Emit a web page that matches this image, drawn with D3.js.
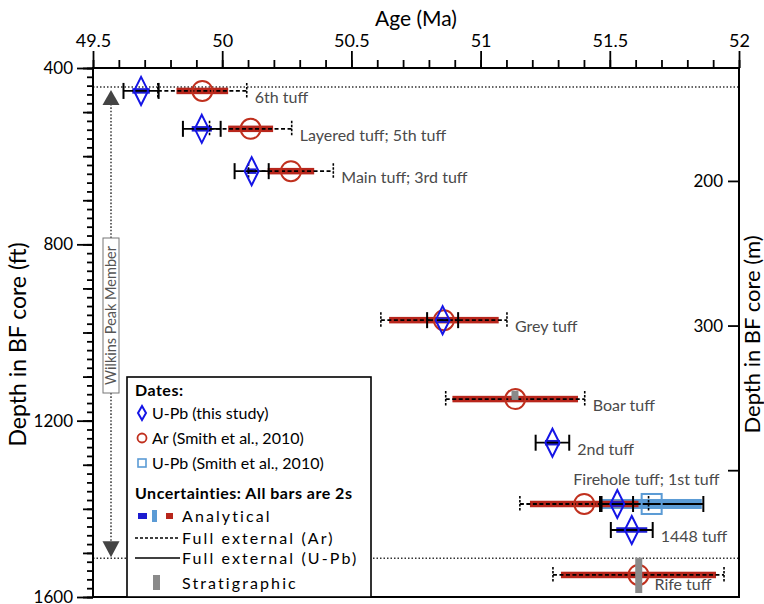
<!DOCTYPE html>
<html>
<head>
<meta charset="utf-8">
<script src="https://cdn.jsdelivr.net/npm/d3@7"></script>
<style>
  body { margin: 0; background: #fff; }
  svg { font-family: Lato, "Noto Sans", sans-serif; }
</style>
</head>
<body>
<svg id="chart" width="764" height="604"></svg>
<script>
// tuff horizons, depth in the BF core (ft)
const tuffs = ["6th tuff", "Layered tuff; 5th tuff", "Main tuff; 3rd tuff", "Grey tuff", "Boar tuff",
    "2nd tuff", "Firehole tuff; 1st tuff", "1448 tuff", "Rife tuff"]
const depthFt = [452, 538, 634, 972, 1151, 1250, 1389, 1448, 1550]

// U-Pb (this study): age, half widths of analytical and full external 2s
const upbAge = [49.686, 49.921, 50.114, 50.853, null, 51.278, 51.529, 51.585, null]
const upbAnalytical = [0.034, 0.039, 0.019, 0.018, null, 0.029, 0.023, 0.060, null]
const upbFull = [0.068, 0.073, 0.066, 0.060, null, 0.065, 0.061, 0.081, null]

// Ar (Smith et al., 2010)
const arAge = [49.923, 50.110, 50.266, 50.858, 51.134, null, 51.401, null, 51.611]
const arAnalytical = [0.100, 0.087, 0.090, 0.212, 0.243, null, 0.210, null, 0.300]
const arFull = [0.172, 0.159, 0.164, 0.244, 0.269, null, 0.249, null, 0.331]

// U-Pb (Smith et al., 2010)
const smithTuff = ["Firehole tuff; 1st tuff"]
const smithAge = [51.662]
const smithAnalytical = [0.194]
const smithFull = [0.200]

// stratigraphic uncertainty (depth range, ft)
const stratTuff = ["Boar tuff", "Rife tuff"]
const stratAge = [51.133, 51.612]
const stratTop = [1132, 1511]
const stratBottom = [1153, 1591]

// Wilkins Peak Member limits (ft)
const wpmTop = 443
const wpmBase = 1512

const ageTicks = [49.5, 50, 50.5, 51, 51.5, 52]
const ftTicks = [400, 800, 1200, 1600]
const mTicks = [200, 300, 400]
const FT_PER_M = 3.28084

const svg = d3.select('#chart')
const pLeft = 93, pRight = 739, pTop = 68, pBottom = 597

let x = d3.scaleLinear().domain([49.5, 52]).range([pLeft, pRight])
let y = d3.scaleLinear().domain([400, 1600]).range([pTop, pBottom])
let yM = d3.scaleLinear().domain([400 / FT_PER_M, 1600 / FT_PER_M]).range([pTop, pBottom])

const darkBlue = '#1c1cd0', lightBlue = '#5b9bd5', red = '#b8261c', gray = '#8a8a8a'
const textGray = '#4a4a4a'

function styleAxis(g, size) {
    g.select('.domain').remove()
    g.selectAll('line').attr('stroke', '#000').attr('stroke-width', 1.8)
    g.selectAll('text').attr('font-size', size).attr('fill', '#000')
        .attr('font-family', 'Lato, "Noto Sans", sans-serif')
}

// top axis: minor then major ticks
svg.append('g').attr('transform', `translate(0,${pTop})`)
    .call(d3.axisTop(x).tickValues(d3.range(49.5, 52.01, 0.1)).tickSize(8).tickFormat(''))
    .call(g => styleAxis(g, 18))
svg.append('g').attr('transform', `translate(0,${pTop})`)
    .call(d3.axisTop(x).tickValues(ageTicks).tickSize(17).tickPadding(4).tickFormat(d => d))
    .call(g => styleAxis(g, 18))

// left axis (ft)
svg.append('g').attr('transform', `translate(${pLeft},0)`)
    .call(d3.axisLeft(y).tickValues(d3.range(400, 1601, 20)).tickSize(6).tickFormat(''))
    .call(g => styleAxis(g, 17))
svg.append('g').attr('transform', `translate(${pLeft},0)`)
    .call(d3.axisLeft(y).tickValues(d3.range(400, 1601, 100)).tickSize(10).tickFormat(''))
    .call(g => styleAxis(g, 17))
svg.append('g').attr('transform', `translate(${pLeft},0)`)
    .call(d3.axisLeft(y).tickValues(ftTicks).tickSize(16).tickPadding(4).tickFormat(d => d))
    .call(g => styleAxis(g, 17))

// right axis (m), ticks inside
svg.append('g').attr('transform', `translate(${pRight},0)`)
    .call(d3.axisLeft(yM).tickValues(mTicks).tickSize(11).tickPadding(5)
        .tickFormat(d => d === 400 ? '' : d))
    .call(g => styleAxis(g, 17))

// axis titles
svg.append('text').attr('x', (pLeft + pRight) / 2).attr('y', 26)
    .attr('text-anchor', 'middle').attr('font-size', 21).text('Age (Ma)')
svg.append('text').attr('transform', `translate(26,${(pTop + pBottom) / 2 + 12}) rotate(-90)`)
    .attr('text-anchor', 'middle').attr('font-size', 23).text('Depth in BF core (ft)')
svg.append('text').attr('transform', `translate(760,${(pTop + pBottom) / 2 + 2}) rotate(-90)`)
    .attr('text-anchor', 'middle').attr('font-size', 22).text('Depth in BF core (m)')

let plot = svg.append('g')

// Wilkins Peak Member limits
plot.selectAll('.wpm').data([wpmTop, wpmBase]).enter().append('line')
    .attr('x1', pLeft).attr('x2', pRight)
    .attr('y1', d => y(d)).attr('y2', d => y(d))
    .attr('stroke', '#333').attr('stroke-width', 1.4).attr('stroke-dasharray', '1.5,2')

const ax = 111
plot.append('line').attr('x1', ax).attr('x2', ax)
    .attr('y1', y(wpmTop) + 17).attr('y2', y(wpmBase) - 17)
    .attr('stroke', '#444').attr('stroke-width', 1.6).attr('stroke-dasharray', '1.6,1.8')
plot.append('path')
    .attr('d', `M${ax},${y(wpmTop) + 3} l8.5,15 h-17 Z`).attr('fill', '#444')
plot.append('path')
    .attr('d', `M${ax},${y(wpmBase) - 1} l8.5,-16 h-17 Z`).attr('fill', '#444')
plot.append('rect').attr('x', ax - 8).attr('y', 238).attr('width', 16).attr('height', 155)
    .attr('fill', '#fff').attr('stroke', '#777').attr('stroke-width', 1)
plot.append('text').attr('transform', `translate(${ax + 5},315.5) rotate(-90)`)
    .attr('text-anchor', 'middle').attr('font-size', 14.5).attr('fill', '#555')
    .text('Wilkins Peak Member')

// build rows
let rows = tuffs.map(function (t, i) {
    let si = smithTuff.indexOf(t)
    return {
        name: t, depth: depthFt[i],
        upb: upbAge[i] === null ? null : {age: upbAge[i], an: upbAnalytical[i], full: upbFull[i]},
        ar: arAge[i] === null ? null : {age: arAge[i], an: arAnalytical[i], full: arFull[i]},
        smith: si < 0 ? null : {age: smithAge[si], an: smithAnalytical[si], full: smithFull[si]}
    }
})

function bar(g, d, e, h, color) {
    g.append('rect')
        .attr('x', x(e.age - e.an)).attr('width', x(e.age + e.an) - x(e.age - e.an))
        .attr('y', y(d.depth) - h / 2).attr('height', h).attr('fill', color)
}

function whisker(g, d, e, dashed) {
    let yy = y(d.depth)
    let dash = dashed ? '4,2.5' : null
    g.append('line').attr('x1', x(e.age - e.full)).attr('x2', x(e.age + e.full))
        .attr('y1', yy).attr('y2', yy).attr('stroke', '#000').attr('stroke-width', 1.8)
        .attr('stroke-dasharray', dash)
    ;[e.age - e.full, e.age + e.full].forEach(function (a) {
        g.append('line').attr('x1', x(a)).attr('x2', x(a))
            .attr('y1', yy - 8).attr('y2', yy + 8).attr('stroke', '#000')
            .attr('stroke-width', dashed ? 1.6 : 2).attr('stroke-dasharray', dashed ? '2.5,1.5' : null)
    })
}

let groups = plot.selectAll('.tuff').data(rows).enter().append('g')

groups.each(function (d) {
    let g = d3.select(this)
    if (d.smith) bar(g, d, d.smith, 10, lightBlue)
    if (d.ar) bar(g, d, d.ar, 6.5, red)
    if (d.upb) bar(g, d, d.upb, 5.5, darkBlue)
    if (d.ar) whisker(g, d, d.ar, true)
    if (d.smith) whisker(g, d, d.smith, false)
    if (d.upb) whisker(g, d, d.upb, false)
})

// stratigraphic uncertainty
plot.selectAll('.strat').data(stratTuff).enter().append('rect')
    .attr('x', (d, i) => x(stratAge[i]) - 3.5).attr('width', 7)
    .attr('y', (d, i) => y(stratTop[i]))
    .attr('height', (d, i) => Math.min(y(stratBottom[i]), pBottom - 1) - y(stratTop[i]))
    .attr('fill', gray)

groups.each(function (d) {
    let g = d3.select(this)
    let yy = y(d.depth)
    if (d.ar) g.append('circle').attr('cx', x(d.ar.age)).attr('cy', yy).attr('r', 10)
        .attr('fill', 'none').attr('stroke', '#c0301e').attr('stroke-width', 2)
    if (d.smith) g.append('rect').attr('x', x(d.smith.age) - 10).attr('y', yy - 10)
        .attr('width', 20).attr('height', 20)
        .attr('fill', 'none').attr('stroke', lightBlue).attr('stroke-width', 2)
    if (d.upb) {
        let cx = x(d.upb.age)
        g.append('path').attr('d', `M${cx},${yy - 14} L${cx + 7},${yy} L${cx},${yy + 14} L${cx - 7},${yy} Z`)
            .attr('fill', 'none').attr('stroke', '#1515e6').attr('stroke-width', 2)
    }
})

// tuff labels
groups.append('text')
    .attr('font-size', 16).attr('fill', textGray)
    .attr('text-anchor', d => d.smith ? 'end' : 'start')
    .attr('x', function (d) {
        if (d.smith) return x(d.smith.age + d.smith.full) + 16
        if (d.name === 'Rife tuff') return x(d.ar.age) + 16
        let ends = []
        if (d.upb) ends.push(d.upb.age + d.upb.full)
        if (d.ar) ends.push(d.ar.age + d.ar.full)
        return x(d3.max(ends)) + 8
    })
    .attr('y', function (d) {
        if (d.smith) return y(d.depth) - 19
        if (d.name === 'Rife tuff') return y(d.depth) + 15
        return y(d.depth) + 12
    })
    .text(d => d.name)

// frame
svg.append('rect').attr('x', pLeft).attr('y', pTop).attr('width', pRight - pLeft).attr('height', pBottom - pTop)
    .attr('fill', 'none').attr('stroke', '#000').attr('stroke-width', 2)

// legend
let lg = svg.append('g')
lg.append('rect').attr('x', 127).attr('y', 377).attr('width', 244).attr('height', pBottom - 377)
    .attr('fill', '#fff').attr('stroke', '#000').attr('stroke-width', 1.6)

const lgText = (tx, ty, s, bold, spaced) => lg.append('text').attr('x', tx).attr('y', ty)
    .attr('font-size', 16).attr('font-weight', bold ? 'bold' : null)
    .attr('letter-spacing', spaced ? 2.1 : (bold ? 0.5 : null)).text(s)

lgText(135, 396, 'Dates:', true)
lg.append('path').attr('d', 'M142,406 L146,413 L142,420 L138,413 Z')
    .attr('fill', 'none').attr('stroke', '#1515e6').attr('stroke-width', 2)
lgText(152, 419, 'U-Pb (this study)')
lg.append('circle').attr('cx', 142).attr('cy', 438).attr('r', 4.5)
    .attr('fill', 'none').attr('stroke', '#c0301e').attr('stroke-width', 1.8)
lgText(152, 444, 'Ar (Smith et al., 2010)')
lg.append('rect').attr('x', 138).attr('y', 459).attr('width', 8).attr('height', 8)
    .attr('fill', 'none').attr('stroke', lightBlue).attr('stroke-width', 1.6)
lgText(152, 469, 'U-Pb (Smith et al., 2010)')
lgText(135, 499, 'Uncertainties: All bars are 2s', true)
lg.append('rect').attr('x', 138).attr('y', 513).attr('width', 9).attr('height', 6).attr('fill', darkBlue)
lg.append('rect').attr('x', 152).attr('y', 510).attr('width', 5).attr('height', 12).attr('fill', lightBlue)
lg.append('rect').attr('x', 166).attr('y', 513).attr('width', 7).attr('height', 6).attr('fill', red)
lgText(182, 522, 'Analytical', false, true)
lg.append('line').attr('x1', 135).attr('x2', 180).attr('y1', 538).attr('y2', 538)
    .attr('stroke', '#000').attr('stroke-width', 1.4).attr('stroke-dasharray', '3,2')
lgText(182, 544, 'Full external (Ar)', false, true)
lg.append('line').attr('x1', 135).attr('x2', 180).attr('y1', 558).attr('y2', 558)
    .attr('stroke', '#000').attr('stroke-width', 1.6)
lgText(182, 564, 'Full external (U-Pb)', false, true)
lg.append('rect').attr('x', 153).attr('y', 575).attr('width', 7).attr('height', 15).attr('fill', gray)
lgText(182, 589, 'Stratigraphic', false, true)
</script>
</body>
</html>
